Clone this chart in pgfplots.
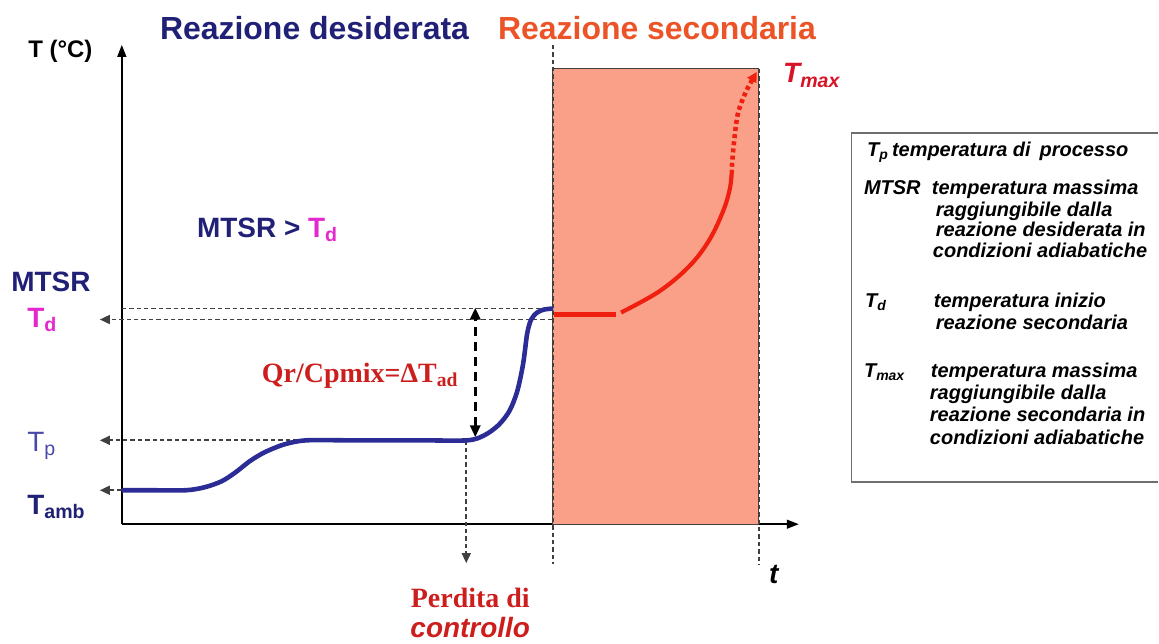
\documentclass[border=0pt]{standalone}
\usepackage{pgfplots}
\pgfplotsset{compat=1.18}
\usepackage{fontspec}
\setmainfont{Liberation Sans}
\newfontfamily\seriffont{Liberation Serif}
\usetikzlibrary{arrows.meta}

\definecolor{navy}{RGB}{32,32,118}
\definecolor{curveblue}{RGB}{44,44,150}
\definecolor{tpblue}{RGB}{72,72,170}
\definecolor{secorange}{RGB}{236,84,40}
\definecolor{salmon}{RGB}{251,160,136}
\definecolor{curvered}{RGB}{240,32,16}
\definecolor{qrred}{RGB}{205,30,30}
\definecolor{tmaxred}{RGB}{215,20,40}
\definecolor{magentad}{RGB}{228,40,205}
\definecolor{boxgray}{RGB}{110,110,110}

\newcommand{\fs}[1]{\fontsize{#1}{1.2\dimexpr#1\relax}\selectfont}

\begin{document}
\begin{tikzpicture}
\begin{axis}[
  scale only axis, width=339pt, height=240pt,
  xmin=122, xmax=800, ymin=119, ymax=599,
  axis lines=left,
  axis line style={line width=0.75pt, -{Triangle[length=6pt,width=4.5pt]}},
  xtick=\empty, ytick=\empty,
  clip=false, no markers,
  thindash/.style={black!75, line width=0.85pt, dash pattern=on 2.2pt off 1.5pt},
  smallhead/.style={-{Triangle[length=5pt,width=4.5pt]}},
]
% page extent
\path (axis cs:0,0) rectangle (axis cs:1159,644);

% zone of the secondary reaction
\addplot[fill=salmon, draw=black!75, line width=0.6pt] coordinates {(553,119) (760,119) (760,575) (553,575)} -- cycle;

% reference levels
\addplot[thindash] coordinates {(122,335) (553,335)};
\addplot[thindash, smallhead] coordinates {(553,324) (100,324)};
\addplot[thindash, smallhead] coordinates {(468,203) (100,203)};
\addplot[thindash, smallhead] coordinates {(122,153) (100,153)};

% vertical markers
\addplot[thindash, smallhead] coordinates {(467,203) (467,80)};
\addplot[thindash] coordinates {(554,599) (554,79)};
\addplot[thindash] coordinates {(760,575) (760,79)};

% adiabatic temperature rise
\addplot[black, line width=1.6pt, dash pattern=on 4.5pt off 3pt, {Triangle[length=6pt,width=5pt]}-{Triangle[length=6pt,width=5pt]}]
  coordinates {(476,206) (476,336)};

% desired reaction
\addplot[curveblue, line width=2.3pt, smooth, tension=0.5] coordinates {
  (122,153) (150,153) (186,153) (205,156) (222,162) (236,171) (250,182)
  (265,191) (285,199) (307,203) (350,203) (420,203) (468,203) (485,208)
  (499,218) (510,232) (518,252) (524,280) (528,310) (532,324) (538,331)
  (545,334) (554,335)};

% secondary reaction
\addplot[curvered, line width=2.1pt] coordinates {(555,329) (617,329)};
\addplot[curvered, line width=2.1pt, smooth, tension=0.6] coordinates {
  (622,331) (660,352) (690,377) (710,403) (724,432) (731,455) (733,474)};
\addplot[curvered, line width=2.3pt, smooth, dash pattern=on 2pt off 1.6pt,
  -{Triangle[length=5pt,width=5pt]}] coordinates {
  (733,477) (735,500) (739,530) (747,552) (758,572)};

% titles and labels
\node[anchor=base, font=\fs{16pt}\bfseries, text=navy, inner sep=0]
  at (axis cs:315,604) {Reazione desiderata};
\node[anchor=base, font=\fs{16pt}\bfseries, text=secorange, inner sep=0]
  at (axis cs:658,604) {Reazione secondaria};
\node[anchor=base west, font=\fs{12pt}\bfseries, inner sep=0]
  at (axis cs:28,586) {T (°C)};
\node[anchor=base west, font=\fs{14pt}\bfseries\itshape, text=tmaxred, inner sep=0]
  at (axis cs:784,561) {T\textsubscript{max}};
\node[anchor=base west, font=\fs{14pt}\bfseries, text=navy, inner sep=0]
  at (axis cs:197,406) {MTSR > \textcolor{magentad}{T\textsubscript{d}}};
\node[anchor=base west, font=\fs{14pt}\bfseries, text=navy, inner sep=0]
  at (axis cs:11,352) {MTSR};
\node[anchor=base west, font=\fs{14pt}\bfseries, text=magentad, inner sep=0]
  at (axis cs:27,316) {T\textsubscript{d}};
\node[anchor=base west, font=\fs{14pt}, text=tpblue, inner sep=0]
  at (axis cs:27,192) {T\textsubscript{p}};
\node[anchor=base west, font=\fs{14pt}\bfseries, text=navy, inner sep=0]
  at (axis cs:27,129) {T\textsubscript{amb}};
\node[anchor=base west, font=\seriffont\fs{14pt}\bfseries, text=qrred, inner sep=0]
  at (axis cs:262,261) {Qr/Cpmix=ΔT\textsubscript{ad}};
\node[anchor=base, font=\seriffont\fs{14pt}\bfseries, text=qrred, inner sep=0]
  at (axis cs:471,36) {Perdita di};
\node[anchor=base, font=\fs{14pt}\bfseries\itshape, text=qrred, inner sep=0]
  at (axis cs:471,6) {controllo};
\node[anchor=base west, font=\fs{14pt}\bfseries\itshape, inner sep=0]
  at (axis cs:770,60) {t};

% key box
\draw[boxgray, line width=0.8pt] (axis cs:1160,511) -- (axis cs:853,511) -- (axis cs:853,161) -- (axis cs:1160,161);
\begin{scope}[every node/.style={anchor=base west, inner sep=0, font=\fs{10pt}\bfseries\itshape}]
\node at (axis cs:868,487) {T\textsubscript{p}};
\node at (axis cs:893,487) {temperatura di\, processo};
\node at (axis cs:865,449) {MTSR};
\node at (axis cs:933,449) {temperatura massima};
\node at (axis cs:937,427) {raggiungibile dalla};
\node at (axis cs:937,407) {reazione desiderata in};
\node at (axis cs:934,386) {condizioni adiabatiche};
\node at (axis cs:866,336) {T\textsubscript{d}};
\node at (axis cs:935,336) {temperatura inizio};
\node at (axis cs:937,314) {reazione secondaria};
\node at (axis cs:865,266) {T\textsubscript{max}};
\node at (axis cs:932,266) {temperatura massima};
\node at (axis cs:931,244) {raggiungibile dalla};
\node at (axis cs:931,222) {reazione secondaria in};
\node at (axis cs:931,199) {condizioni adiabatiche};
\end{scope}
\end{axis}
\end{tikzpicture}
\end{document}
